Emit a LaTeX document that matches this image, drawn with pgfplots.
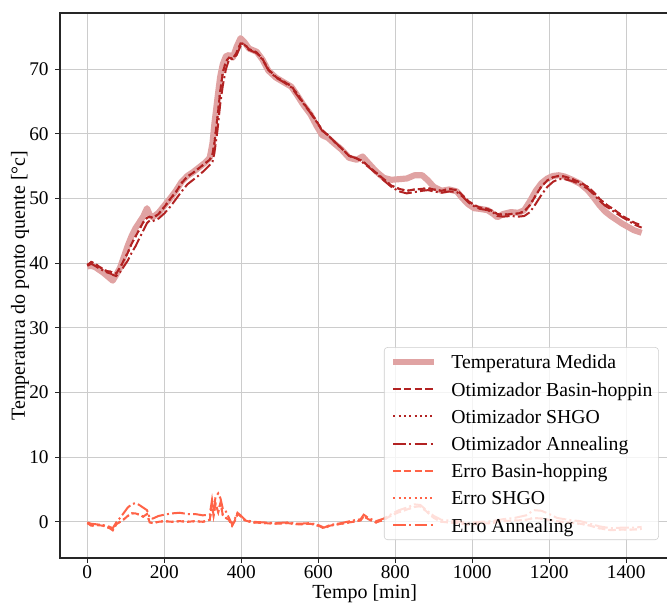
\documentclass[border=0pt]{standalone}
\usepackage{fontspec}
\setmainfont{Liberation Serif}
\usepackage{pgfplots}
\usepackage{pgfplotstable}
\pgfplotsset{compat=1.18}

\definecolor{fire}{RGB}{178,34,34}
\definecolor{medida}{RGB}{224,163,163}
\definecolor{tomato}{RGB}{255,99,71}

% t, medida, basin-hopping, shgo, annealing
\pgfplotstableread{
t     M     B     S     A
0     39.5  39.7  39.7  39.6
10    39.6  40.2  40.2  39.9
20    39.4  39.9  39.9  39.6
30    39.0  39.5  39.5  39.2
40    38.6  39.1  39.1  38.9
50    38.1  38.8  38.8  38.6
60    37.6  38.7  38.7  38.4
66    37.3  38.5  38.5  38.2
75    38.2  38.4  38.4  38.0
85    39.3  39.3  39.3  38.6
95    41.0  40.5  40.5  39.5
105   42.7  41.6  41.6  40.4
115   44.2  43.0  43.0  41.6
125   45.4  44.1  44.1  42.6
135   46.3  45.2  45.2  43.8
145   47.2  46.3  46.3  45.0
155   48.5  47.0  47.0  46.2
162   47.5  47.2  47.2  46.6
170   47.1  47.0  47.0  46.5
185   47.8  47.6  47.6  46.9
200   48.9  48.7  48.7  47.7
215   50.0  49.9  49.9  48.7
230   51.2  51.0  51.0  49.9
245   52.6  52.4  52.4  51.1
260   53.5  53.4  53.4  52.2
275   54.1  54.0  54.0  52.9
290   54.8  54.7  54.7  53.6
305   55.5  55.4  55.4  54.4
318   56.3  56.0  56.0  55.2
325   58.5  56.8  56.8  55.6
330   61.5  58.5  58.5  57.0
338   65.5  62.5  62.5  60.5
345   68.8  66.5  66.5  64.5
352   70.8  69.5  69.5  67.5
360   72.0  71.2  71.2  70.0
368   72.2  71.8  71.8  71.5
378   71.8  71.6  71.6  71.6
388   73.5  72.6  72.6  72.2
398   74.8  74.0  74.0  73.6
408   74.2  73.9  73.9  73.8
420   73.2  73.1  73.1  73.0
440   72.7  72.6  72.6  72.5
455   71.5  71.6  71.6  71.5
470   69.8  70.0  70.0  69.9
490   68.7  68.8  68.8  68.7
510   68.0  68.1  68.1  68.0
530   67.3  67.4  67.4  67.2
545   66.0  66.2  66.2  66.0
560   64.6  64.9  64.9  64.8
580   63.0  63.3  63.3  63.2
595   61.3  62.0  62.0  61.9
610   59.8  60.6  60.6  60.5
625   59.4  59.8  59.8  59.8
640   58.6  58.9  58.9  58.9
660   57.6  57.8  57.8  57.8
680   56.3  56.6  56.6  56.6
700   56.0  56.2  56.2  56.2
715   56.5  55.8  55.8  55.6
730   55.5  55.0  55.0  54.9
750   54.2  54.0  54.0  53.9
770   53.2  53.0  53.0  52.8
790   52.9  52.0  52.0  51.8
810   53.0  51.5  51.5  51.1
830   53.1  51.2  51.2  50.8
850   53.6  51.4  51.4  51.0
870   53.6  51.5  51.5  51.2
885   52.8  51.6  51.6  51.3
900   51.8  51.4  51.4  51.1
920   51.2  51.2  51.2  50.9
940   51.4  51.5  51.5  51.1
960   51.1  51.3  51.3  51.0
975   50.0  50.5  50.5  50.3
990   49.1  49.6  49.6  49.4
1005  48.5  49.0  49.0  48.8
1020  48.4  48.6  48.6  48.4
1040  48.2  48.4  48.4  48.2
1055  47.6  48.0  48.0  47.8
1065  47.1  47.6  47.6  47.3
1080  47.6  47.5  47.5  47.2
1100  47.9  47.6  47.6  47.3
1120  47.8  47.7  47.7  47.2
1135  48.2  48.0  48.0  47.3
1150  49.6  49.0  49.0  47.9
1165  51.2  50.5  50.5  49.2
1180  52.4  51.9  51.9  50.6
1195  53.1  52.8  52.8  51.8
1210  53.5  53.3  53.3  52.6
1225  53.6  53.5  53.5  53.0
1240  53.4  53.4  53.4  53.0
1260  52.9  53.0  53.0  52.7
1280  52.3  52.5  52.5  52.2
1300  51.3  51.8  51.8  51.5
1315  50.2  51.0  51.0  50.7
1330  49.0  50.0  50.0  49.7
1345  48.0  49.2  49.2  48.9
1360  47.3  48.6  48.6  48.3
1375  46.7  48.0  48.0  47.7
1390  46.1  47.3  47.3  47.1
1405  45.6  46.8  46.8  46.6
1420  45.1  46.3  46.3  46.0
1440  44.7  45.8  45.8  45.5
}\modelos

% erros: basin-hopping, shgo, annealing
\pgfplotstableread{
t     EB    ES    EA
0     -0.2  -0.2  -0.1
10    -0.6  -0.6  -0.3
25    -0.5  -0.5  -0.4
40    -0.6  -0.6  -0.5
55    -0.9  -0.9  -0.7
66    -1.3  -1.3  -1.0
75    -0.4  -0.4  -0.1
85    0.0   0.0   0.6
95    0.4   0.4   1.4
105   0.9   0.9   2.2
115   1.3   1.3   2.7
125   1.3   1.3   2.9
135   1.1   1.1   2.6
145   0.8   0.8   2.2
155   1.2   1.2   1.8
162   -0.1  -0.1  0.6
170   -0.2  -0.2  0.5
185   0.0   0.0   0.9
200   0.1   0.1   1.1
220   0.0   0.0   1.3
240   0.1   0.1   1.4
260   0.0   0.0   1.2
280   0.1   0.1   1.2
300   0.0   0.0   1.0
318   0.3   0.3   1.1
324   2.6   2.6   3.4
328   1.0   1.0   1.8
333   2.8   2.8   3.8
340   1.5   1.5   4.4
346   3.0   3.0   3.6
352   1.0   1.0   2.0
360   0.6   0.6   1.6
368   0.3   0.3   0.6
376   -0.6  -0.6  -0.4
382   0.0   0.0   0.3
390   1.2   1.2   1.4
398   0.9   0.9   1.0
410   0.2   0.2   0.3
430   -0.1  -0.1  0.0
460   -0.2  -0.2  -0.1
490   -0.3  -0.3  -0.2
520   -0.2  -0.2  -0.1
550   -0.4  -0.4  -0.3
580   -0.3  -0.3  -0.2
600   -0.6  -0.6  -0.5
615   -1.0  -1.0  -0.9
630   -0.6  -0.6  -0.5
660   -0.3  -0.3  -0.2
690   0.0   0.0   0.2
710   0.2   0.2   0.4
718   0.9   0.9   1.1
730   0.4   0.4   0.6
750   -0.1  -0.1  0.1
770   0.3   0.3   0.5
790   1.0   1.0   1.2
810   1.5   1.5   1.8
830   1.9   1.9   2.2
850   2.3   2.3   2.7
865   2.4   2.4   2.6
885   1.4   1.4   1.6
900   0.6   0.6   0.9
920   0.0   0.0   0.3
940   -0.1  -0.1  0.2
960   -0.2  -0.2  0.1
990   -0.4  -0.4  -0.2
1020  -0.3  -0.3  0.0
1050  -0.2  -0.2  0.1
1080  0.1   0.1   0.4
1110  0.2   0.2   0.6
1140  0.3   0.3   1.0
1160  0.6   0.6   1.8
1180  0.5   0.5   1.7
1200  0.3   0.3   1.2
1220  0.1   0.1   0.6
1250  -0.1  -0.1  0.3
1280  -0.3  -0.3  0.1
1300  -0.5  -0.5  -0.2
1330  -1.0  -1.0  -0.7
1360  -1.3  -1.3  -1.0
1390  -1.2  -1.2  -0.9
1420  -1.2  -1.2  -0.9
1440  -1.1  -1.1  -0.8
}\erros

\begin{document}
\begin{tikzpicture}
\begin{axis}[
  at={(45pt,33.75pt)}, anchor=south west,
  scale only axis, width=457pt, height=408.75pt,
  xmin=-71, xmax=1512, ymin=-5.6, ymax=78.7,
  xtick={0,200,...,1400}, ytick={0,10,...,70},
  grid=major,
  major grid style={color=black!20, line width=0.75pt},
  axis line style={line width=0.8pt, black!85},
  tick align=outside, tick pos=left, major tick length=3.5pt,
  tick style={line width=0.8pt, black!85},
  /pgf/number format/assume math mode=true,
  /pgf/number format/1000 sep={},
  tick label style={font=\fontsize{14.5}{17}\selectfont},
  xticklabel style={yshift=1.5pt},
  yticklabel style={xshift=-1.5pt},
  xlabel={Tempo [min]},
  ylabel={Temperatura do ponto quente [°c]},
  label style={font=\fontsize{15}{18}\selectfont},
  xlabel style={at={(axis description cs:0.5,-0.0743)}, anchor=base},
  ylabel style={at={(axis description cs:-0.0656,0.5)}, anchor=center},
  legend cell align=left,
  legend style={at={(axis description cs:0.5317,0.387)}, anchor=north west,
    draw=black!20, fill=white, fill opacity=0.8, text opacity=1,
    rounded corners=2.5pt, font=\fontsize{14.8}{17}\selectfont,
    inner xsep=4.5pt, inner ysep=5.8pt, row sep=10.1pt, column sep=10.5pt,
    nodes={inner sep=0pt, text height=10.3pt, text depth=0pt}},
  legend image code/.code={\draw[#1] (0pt,0pt) -- (30.75pt,0pt);},
]
\addplot[medida, line width=4.6pt, line join=round] table[x=t, y=M] {\modelos};
\addlegendentry{Temperatura Medida}
\addplot[fire, line width=1.5pt, dash pattern=on 5.55pt off 2.4pt] table[x=t, y=B] {\modelos};
\addlegendentry{Otimizador Basin-hoppin}
\addplot[fire, line width=1.5pt, dash pattern=on 1.5pt off 2.475pt] table[x=t, y=S] {\modelos};
\addlegendentry{Otimizador SHGO}
\addplot[fire, line width=1.5pt, dash pattern=on 9.6pt off 2.4pt on 1.5pt off 2.4pt] table[x=t, y=A] {\modelos};
\addlegendentry{Otimizador Annealing}
\addplot[tomato, line width=1.5pt, dash pattern=on 5.55pt off 2.4pt] table[x=t, y=EB] {\erros};
\addlegendentry{Erro Basin-hopping}
\addplot[tomato, line width=1.5pt, dash pattern=on 1.5pt off 2.475pt] table[x=t, y=ES] {\erros};
\addlegendentry{Erro SHGO}
\addplot[tomato, line width=1.5pt, dash pattern=on 9.6pt off 2.4pt on 1.5pt off 2.4pt] table[x=t, y=EA] {\erros};
\addlegendentry{Erro Annealing}
\end{axis}
\pgfresetboundingbox
\path[use as bounding box] (0pt,0pt) rectangle (500.25pt,452.25pt);
\end{tikzpicture}
\end{document}
